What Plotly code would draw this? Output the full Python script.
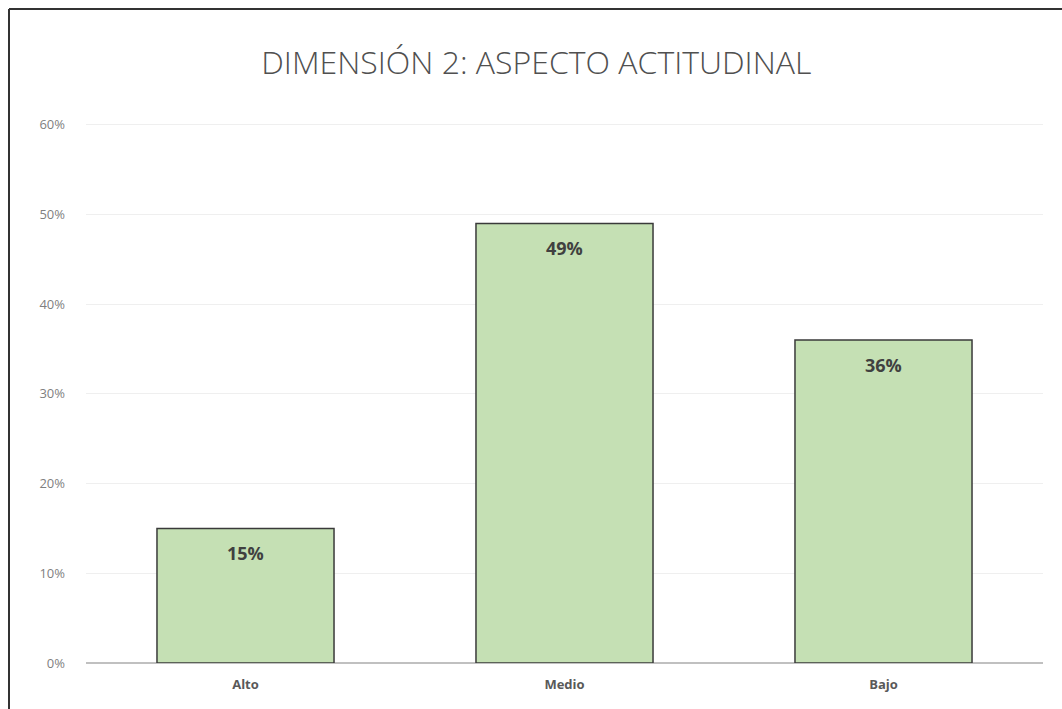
import plotly.graph_objects as go

categories = ["Alto", "Medio", "Bajo"]
values = [0.15, 0.49, 0.36]
labels = ["15%", "49%", "36%"]
title_text = "DIMENSIÓN 2: ASPECTO ACTITUDINAL"
y_ticks = [0, 0.1, 0.2, 0.3, 0.4, 0.5, 0.6]
y_ticklabels = ["0%", "10%", "20%", "30%", "40%", "50%", "60%"]

fig = go.Figure(go.Bar(
    x=categories, y=values,
    marker=dict(color="#C5E0B4", line=dict(color="#3a3a3a", width=1.5)),
    width=0.555,
))

annotations = [
    dict(x=c, y=v, text=t, xref="x", yref="y", showarrow=False,
         yanchor="top", yshift=-11,
         font=dict(family="Open Sans", size=18, color="#404040", weight="bold"))
    for c, v, t in zip(categories, values, labels)
]

L, R, T, B = 86, 19, 123, 46
pw, ph = 1062 - L - R, 709 - T - B

fig.update_layout(
    width=1062, height=709,
    margin=dict(l=L, r=R, t=T, b=B),
    paper_bgcolor="white", plot_bgcolor="white",
    title=dict(text=title_text, x=0.505, xanchor="center", y=0.912, yanchor="middle",
               font=dict(family="Open Sans", size=32, color="#505050", weight=300)),
    showlegend=False,
    annotations=annotations,
    xaxis=dict(showgrid=False, showline=False, ticks="", ticklabelstandoff=12,
               tickfont=dict(family="Open Sans", size=13, color="#595959", weight="bold")),
    yaxis=dict(range=[0, 0.602], tickvals=y_ticks, ticktext=y_ticklabels,
               showgrid=True, gridcolor="#efefef", gridwidth=1,
               zeroline=True, zerolinecolor="#c0c0c0", zerolinewidth=2,
               showline=False, ticks="", ticklabelstandoff=20,
               tickfont=dict(family="Open Sans", size=13, color="#7f7f7f")),
    shapes=[
        dict(type="line", xref="paper", yref="paper", x0=(9 - L) / pw, x1=(9 - L) / pw,
             y0=-B / ph, y1=(709 - 9 - B) / ph, line=dict(color="#333333", width=2)),
        dict(type="line", xref="paper", yref="paper", x0=(9 - L) / pw, x1=(1062 - L) / pw,
             y0=(709 - 9 - B) / ph, y1=(709 - 9 - B) / ph, line=dict(color="#333333", width=2)),
    ],
)

fig.write_html("out.html", config={"displayModeBar": False},
               post_script="document.body.style.margin='0';")
